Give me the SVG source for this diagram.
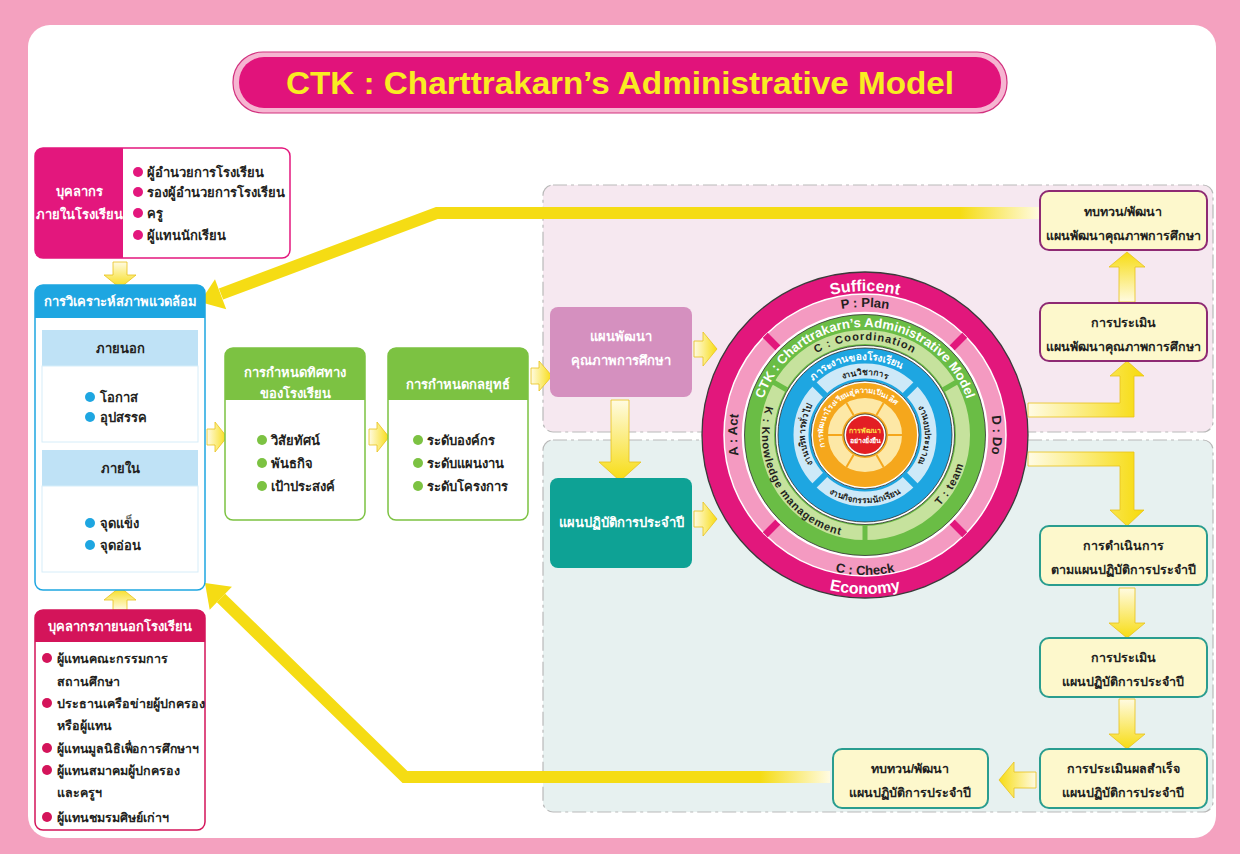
<svg xmlns="http://www.w3.org/2000/svg" width="1240" height="854" viewBox="0 0 1240 854">
<style>
text{font-family:'Liberation Sans',sans-serif;}
.t{font-size:13px;font-weight:bold;fill:#231f20;}
.s{font-size:12.5px;}
.tw{font-size:13px;font-weight:bold;fill:#ffffff;}
.tc{text-anchor:middle;}
.rb{fill:#fdf8cc;stroke-width:2;}
.rp{stroke:#8e2a73;}
.rt{stroke:#2a9d8f;}
.ar{stroke:#e9c21a;stroke-width:0.8;}
.zone{stroke:#b9b9b9;stroke-width:1.2;stroke-dasharray:14 4 3 4;}
.ring{fill:none;}
</style>
<defs>
<linearGradient id="gR" x1="0" y1="0" x2="1" y2="0"><stop offset="0" stop-color="#fffbe2"/><stop offset="1" stop-color="#f7dc12"/></linearGradient>
<linearGradient id="gL" x1="1" y1="0" x2="0" y2="0"><stop offset="0" stop-color="#fffbe2"/><stop offset="1" stop-color="#f7dc12"/></linearGradient>
<linearGradient id="gD" x1="0" y1="0" x2="0" y2="1"><stop offset="0" stop-color="#fffbe2"/><stop offset="1" stop-color="#f7dc12"/></linearGradient>
<linearGradient id="gU" x1="0" y1="1" x2="0" y2="0"><stop offset="0" stop-color="#fffbe2"/><stop offset="1" stop-color="#f7dc12"/></linearGradient>
<linearGradient id="gTop" gradientUnits="userSpaceOnUse" x1="1040" y1="0" x2="960" y2="0"><stop offset="0" stop-color="#fffbe2"/><stop offset="1" stop-color="#f5dc14"/></linearGradient>
<linearGradient id="gBot" gradientUnits="userSpaceOnUse" x1="830" y1="0" x2="760" y2="0"><stop offset="0" stop-color="#fffbe2"/><stop offset="1" stop-color="#f5dc14"/></linearGradient>
<linearGradient id="gUp" gradientUnits="userSpaceOnUse" x1="1030" y1="0" x2="1140" y2="0"><stop offset="0" stop-color="#fffbe2"/><stop offset="1" stop-color="#f7dc12"/></linearGradient>
<path id="pSuf" d="M721,435 A144,144 0 0 1 1009,435"/>
<path id="pEco" d="M706,435 A159,159 0 0 0 1024,435"/>
<path id="pPlan" d="M737,435 A128,128 0 0 1 993,435"/>
<path id="pCheck" d="M725,435 A140,140 0 0 0 1005,435"/>
<path id="pAct" d="M774.5,525.5 A128,128 0 0 1 774.5,344.5"/>
<path id="pDo" d="M955.5,344.5 A128,128 0 0 1 955.5,525.5"/>
<path id="pCTK" d="M763.5,471.9 A108,108 0 1 1 966.5,471.9"/>
<path id="pCoord" d="M770,435 A95,95 0 0 1 960,435"/>
<path id="pK" d="M775.8,383.5 A103,103 0 0 0 865,538"/>
<path id="pT" d="M916.5,524.2 A103,103 0 0 0 968,435"/>
<path id="pWork" d="M790,435 A75,75 0 0 1 940,435"/>
<path id="pAca" d="M805,435 A60,60 0 0 1 925,435"/>
<path id="pGen" d="M822.6,477.4 A60,60 0 0 1 822.6,392.6"/>
<path id="pBud" d="M907.4,392.6 A60,60 0 0 1 907.4,477.4"/>
<path id="pStu" d="M797,435 A68,68 0 0 0 933,435"/>
<path id="pExc" d="M832.8,462 A42,42 0 1 1 904.5,420.6"/>
</defs>

<rect x="0" y="0" width="1240" height="854" fill="#f4a1bf"/>
<rect x="28" y="25" width="1188" height="813" rx="22" fill="#ffffff"/>

<g id="zones">
<rect class="zone" x="543" y="185" width="670" height="247" rx="10" fill="#f6e8f0"/>
<rect class="zone" x="543" y="440" width="670" height="372" rx="10" fill="#e7f1f0"/>
</g>

<g id="title">
<rect x="233" y="52" width="774" height="61" rx="30" fill="#f6b5d1" stroke="#d2327f" stroke-width="1.2"/>
<rect x="239" y="57" width="762" height="51" rx="25" fill="#e1137b"/>
<text x="620" y="94" text-anchor="middle" font-size="32" font-weight="bold" fill="#f9ec22" textLength="668" lengthAdjust="spacingAndGlyphs">CTK : Charttrakarn’s Administrative Model</text>
</g>

<g id="connectors">
<path d="M1040,213 H437 L221,294" fill="none" stroke="url(#gTop)" stroke-width="12"/>
<polygon points="200,302 215,279.3 226.2,309.3" fill="#f5dc14"/>
<path d="M830,777 H405 L221,598" fill="none" stroke="url(#gBot)" stroke-width="12"/>
<polygon points="205,583 231.9,586.8 209.7,609.8" fill="#f5dc14"/>
<polygon class="ar" fill="url(#gD)" points="113,262 127,262 127,275 136,275 120,288 104,275 113,275"/>
<polygon class="ar" fill="url(#gU)" points="113,610 127,610 127,600 136,600 120,587 104,600 113,600"/>
<polygon class="ar" fill="url(#gR)" points="207,429 215,429 215,422 227,437 215,452 215,445 207,445"/>
<polygon class="ar" fill="url(#gR)" points="369,429 377,429 377,422 389,437 377,452 377,445 369,445"/>
<polygon class="ar" fill="url(#gR)" points="531,368 539,368 539,361 552,376 539,391 539,384 531,384"/>
<polygon class="ar" fill="url(#gD)" points="611,400 629,400 629,462 641,462 620,481 599,462 611,462"/>
<polygon class="ar" fill="url(#gR)" points="694,341 703,341 703,332 717,349 703,366 703,357 694,357"/>
<polygon class="ar" fill="url(#gR)" points="694,511 703,511 703,502 717,519 703,536 703,527 694,527"/>
<polygon class="ar" fill="url(#gU)" points="1119,302 1135,302 1135,267 1145,267 1127,252 1109,267 1119,267"/>
<polygon class="ar" fill="url(#gD)" points="1119,588 1135,588 1135,623 1145,623 1127,638 1109,623 1119,623"/>
<polygon class="ar" fill="url(#gD)" points="1119,699 1135,699 1135,734 1145,734 1127,749 1109,734 1119,734"/>
<polygon class="ar" fill="url(#gL)" points="1036,772 1014,772 1014,762 999,780 1014,798 1014,788 1036,788"/>
<polygon class="ar" fill="url(#gUp)" points="1028,403 1120,403 1120,376 1110,376 1127,361 1144,376 1134,376 1134,417 1028,417"/>
<polygon class="ar" fill="url(#gUp)" points="1028,452 1134,452 1134,510 1144,510 1127,526 1110,510 1120,510 1120,466 1028,466"/>
</g>

<g id="internal-staff">
<rect x="35" y="148" width="255" height="110" rx="8" fill="#ffffff" stroke="#e3177d" stroke-width="1.5"/>
<path d="M43,148 H123 V258 H43 A8,8 0 0 1 35,250 V156 A8,8 0 0 1 43,148 Z" fill="#e3177d"/>
<text class="tw tc" x="79" y="196">บุคลากร</text>
<text class="tw tc" x="79" y="219">ภายในโรงเรียน</text>
<g fill="#e3177d"><circle cx="138" cy="172" r="5"/><circle cx="138" cy="192" r="5"/><circle cx="138" cy="213" r="5"/><circle cx="138" cy="235" r="5"/></g>
<text class="t" x="147" y="177">ผู้อำนวยการโรงเรียน</text>
<text class="t" x="147" y="197">รองผู้อำนวยการโรงเรียน</text>
<text class="t" x="147" y="218">ครู</text>
<text class="t" x="147" y="240">ผู้แทนนักเรียน</text>
</g>

<g id="env-analysis">
<rect x="35" y="285" width="170" height="305" rx="8" fill="#ffffff" stroke="#1ea6e1" stroke-width="1.5"/>
<path d="M43,285 H197 A8,8 0 0 1 205,293 V318 H35 V293 A8,8 0 0 1 43,285 Z" fill="#1ea6e1"/>
<text class="tw tc" x="120" y="306">การวิเคราะห์สภาพแวดล้อม</text>
<rect x="42" y="330" width="156" height="36" fill="#bfe2f6"/>
<rect x="42" y="366" width="156" height="76" fill="#ffffff" stroke="#d6edf9"/>
<text class="t tc" x="120" y="353">ภายนอก</text>
<circle cx="90" cy="397" r="5" fill="#1ea6e1"/><text class="t" x="100" y="402">โอกาส</text>
<circle cx="90" cy="417" r="5" fill="#1ea6e1"/><text class="t" x="100" y="422">อุปสรรค</text>
<rect x="42" y="450" width="156" height="36" fill="#bfe2f6"/>
<rect x="42" y="486" width="156" height="86" fill="#ffffff" stroke="#d6edf9"/>
<text class="t tc" x="120" y="473">ภายใน</text>
<circle cx="90" cy="523" r="5" fill="#1ea6e1"/><text class="t" x="100" y="528">จุดแข็ง</text>
<circle cx="90" cy="545" r="5" fill="#1ea6e1"/><text class="t" x="100" y="550">จุดอ่อน</text>
</g>

<g id="external-staff">
<rect x="35" y="610" width="170" height="220" rx="8" fill="#ffffff" stroke="#d4145a" stroke-width="1.5"/>
<path d="M43,610 H197 A8,8 0 0 1 205,618 V642 H35 V618 A8,8 0 0 1 43,610 Z" fill="#d4145a"/>
<text class="tw tc" x="120" y="631">บุคลากรภายนอกโรงเรียน</text>
<g fill="#d4145a"><circle cx="47" cy="658" r="5"/><circle cx="47" cy="703" r="5"/><circle cx="47" cy="748" r="5"/><circle cx="47" cy="770" r="5"/><circle cx="47" cy="817" r="5"/></g>
<text class="t s" x="57" y="663">ผู้แทนคณะกรรมการ</text>
<text class="t s" x="57" y="686">สถานศึกษา</text>
<text class="t s" x="57" y="708">ประธานเครือข่ายผู้ปกครอง</text>
<text class="t s" x="57" y="730">หรือผู้แทน</text>
<text class="t s" x="57" y="753" textLength="142" lengthAdjust="spacingAndGlyphs">ผู้แทนมูลนิธิเพื่อการศึกษาฯ</text>
<text class="t s" x="57" y="775">ผู้แทนสมาคมผู้ปกครอง</text>
<text class="t s" x="57" y="797">และครูฯ</text>
<text class="t s" x="57" y="822">ผู้แทนชมรมศิษย์เก่าฯ</text>
</g>

<g id="direction">
<rect x="225" y="348" width="140" height="172" rx="8" fill="#ffffff" stroke="#7cc242" stroke-width="1.5"/>
<path d="M233,348 H357 A8,8 0 0 1 365,356 V400 H225 V356 A8,8 0 0 1 233,348 Z" fill="#7cc242"/>
<text class="tw tc" x="295" y="377">การกำหนดทิศทาง</text>
<text class="tw tc" x="295" y="398">ของโรงเรียน</text>
<g fill="#7cc242"><circle cx="262" cy="440" r="5"/><circle cx="262" cy="463" r="5"/><circle cx="262" cy="486" r="5"/></g>
<text class="t" x="271" y="445">วิสัยทัศน์</text>
<text class="t" x="271" y="468">พันธกิจ</text>
<text class="t" x="271" y="491">เป้าประสงค์</text>
</g>

<g id="strategy">
<rect x="388" y="348" width="140" height="172" rx="8" fill="#ffffff" stroke="#7cc242" stroke-width="1.5"/>
<path d="M396,348 H520 A8,8 0 0 1 528,356 V400 H388 V356 A8,8 0 0 1 396,348 Z" fill="#7cc242"/>
<text class="tw tc" x="458" y="389">การกำหนดกลยุทธ์</text>
<g fill="#7cc242"><circle cx="418" cy="440" r="5"/><circle cx="418" cy="463" r="5"/><circle cx="418" cy="486" r="5"/></g>
<text class="t" x="427" y="445">ระดับองค์กร</text>
<text class="t" x="427" y="468">ระดับแผนงาน</text>
<text class="t" x="427" y="491">ระดับโครงการ</text>
</g>

<g id="dev-plan">
<rect x="550" y="307" width="142" height="90" rx="8" fill="#d590bf"/>
<text class="tw tc" x="621" y="341">แผนพัฒนา</text>
<text class="tw tc" x="621" y="365">คุณภาพการศึกษา</text>
</g>
<g id="action-plan">
<rect x="550" y="478" width="142" height="90" rx="8" fill="#0ea295"/>
<text class="tw tc" x="621" y="527">แผนปฏิบัติการประจำปี</text>
</g>

<g id="model-circle">
<circle cx="865" cy="435" r="152" class="ring" stroke="#e2177c" stroke-width="22"/>
<circle cx="865" cy="435" r="163" fill="none" stroke="#3a3a3a" stroke-width="1.3"/>
<circle cx="865" cy="435" r="131.5" class="ring" stroke="#f49ac1" stroke-width="19"/>
<circle cx="865" cy="435" r="141" fill="none" stroke="#ffffff" stroke-width="1.5"/>
<g stroke="#e2177c" stroke-width="7">
<line x1="951.3" y1="348.7" x2="964.7" y2="335.3"/><line x1="778.7" y1="348.7" x2="765.3" y2="335.3"/>
<line x1="778.7" y1="521.3" x2="765.3" y2="534.7"/><line x1="951.3" y1="521.3" x2="964.7" y2="534.7"/>
</g>
<circle cx="865" cy="435" r="122" fill="none" stroke="#ffffff" stroke-width="2.5"/>
<circle cx="865" cy="435" r="120.5" fill="#6abd45" stroke="#2f2f2f" stroke-width="0.8"/>
<circle cx="865" cy="435" r="98" class="ring" stroke="#c6e29d" stroke-width="14"/>
<g stroke="#6abd45" stroke-width="5">
<line x1="787.1" y1="390" x2="773.2" y2="382"/><line x1="942.9" y1="390" x2="956.8" y2="382"/><line x1="865" y1="525" x2="865" y2="541"/>
</g>
<circle cx="865" cy="435" r="89.5" fill="#ffffff" stroke="#2f2f2f" stroke-width="0.8"/>
<circle cx="865" cy="435" r="87" fill="#1ea6e1" stroke="#2f2f2f" stroke-width="0.8"/>
<circle cx="865" cy="435" r="64" class="ring" stroke="#cde9f8" stroke-width="15"/>
<g stroke="#1ea6e1" stroke-width="6">
<line x1="904.6" y1="395.4" x2="915.9" y2="384.1"/><line x1="825.4" y1="395.4" x2="814.1" y2="384.1"/>
<line x1="825.4" y1="474.6" x2="814.1" y2="485.9"/><line x1="904.6" y1="474.6" x2="915.9" y2="485.9"/>
</g>
<circle cx="865" cy="435" r="54" fill="#ffffff" stroke="#2f2f2f" stroke-width="0.8"/>
<circle cx="865" cy="435" r="52" fill="#f5a71c"/>
<circle cx="865" cy="435" r="30" class="ring" stroke="#fde8a6" stroke-width="14"/>
<g stroke="#f5a71c" stroke-width="2">
<line x1="888" y1="435" x2="902" y2="435"/><line x1="842" y1="435" x2="828" y2="435"/>
<line x1="876.5" y1="415.1" x2="883.5" y2="403"/><line x1="853.5" y1="415.1" x2="846.5" y2="403"/>
<line x1="876.5" y1="454.9" x2="883.5" y2="467"/><line x1="853.5" y1="454.9" x2="846.5" y2="467"/>
</g>
<circle cx="865" cy="435" r="21" fill="#ffffff" stroke="#2f2f2f" stroke-width="0.8"/>
<circle cx="865" cy="435" r="19" fill="#e31e24"/>
<text x="865" y="433" text-anchor="middle" font-size="7" font-weight="bold" fill="#ffe14a">การพัฒนา</text>
<text x="865" y="443" text-anchor="middle" font-size="7" font-weight="bold" fill="#ffffff">อย่างยั่งยืน</text>
<g font-weight="bold">
<text font-size="16" fill="#ffffff"><textPath href="#pSuf" startOffset="50%" text-anchor="middle">Sufficent</textPath></text>
<text font-size="16" fill="#ffffff"><textPath href="#pEco" startOffset="50%" text-anchor="middle">Economy</textPath></text>
<text font-size="13" fill="#231f20"><textPath href="#pPlan" startOffset="50%" text-anchor="middle">P : Plan</textPath></text>
<text font-size="13" fill="#231f20"><textPath href="#pCheck" startOffset="50%" text-anchor="middle">C : Check</textPath></text>
<text font-size="13" fill="#231f20"><textPath href="#pAct" startOffset="50%" text-anchor="middle">A : Act</textPath></text>
<text font-size="13" fill="#231f20"><textPath href="#pDo" startOffset="50%" text-anchor="middle">D : Do</textPath></text>
<text font-size="13" fill="#ffffff"><textPath href="#pCTK" startOffset="50%" text-anchor="middle" textLength="266" lengthAdjust="spacingAndGlyphs">CTK : Charttrakarn’s Administrative Model</textPath></text>
<text font-size="11" fill="#231f20" letter-spacing="1"><textPath href="#pCoord" startOffset="50%" text-anchor="middle">C : Coordination</textPath></text>
<text font-size="11" fill="#231f20" letter-spacing="0.8"><textPath href="#pK" startOffset="50%" text-anchor="middle">K : Knowledge management</textPath></text>
<text font-size="11" fill="#231f20" letter-spacing="0.8"><textPath href="#pT" startOffset="50%" text-anchor="middle">T : team</textPath></text>
<text font-size="10" fill="#ffffff"><textPath href="#pWork" startOffset="46%" text-anchor="middle">ภาระงานของโรงเรียน</textPath></text>
<text font-size="8.5" fill="#231f20"><textPath href="#pAca" startOffset="50%" text-anchor="middle">งานวิชาการ</textPath></text>
<text font-size="8.5" fill="#231f20"><textPath href="#pGen" startOffset="50%" text-anchor="middle">งานบริหารทั่วไป</textPath></text>
<text font-size="8.5" fill="#231f20"><textPath href="#pBud" startOffset="50%" text-anchor="middle">งานงบประมาณ</textPath></text>
<text font-size="8.5" fill="#231f20"><textPath href="#pStu" startOffset="50%" text-anchor="middle">งานกิจกรรมนักเรียน</textPath></text>
<text font-size="7.5" fill="#ffffff"><textPath href="#pExc" startOffset="50%" text-anchor="middle">การพัฒนาโรงเรียนสู่ความเป็นเลิศ</textPath></text>
</g>
</g>

<g id="review-dev-plan">
<rect class="rb rp" x="1040" y="191" width="167" height="59" rx="9"/>
<text class="t s tc" x="1123" y="216">ทบทวน/พัฒนา</text>
<text class="t s tc" x="1123" y="240">แผนพัฒนาคุณภาพการศึกษา</text>
</g>
<g id="eval-dev-plan">
<rect class="rb rp" x="1040" y="303" width="167" height="58" rx="9"/>
<text class="t s tc" x="1123" y="327">การประเมิน</text>
<text class="t s tc" x="1123" y="351">แผนพัฒนาคุณภาพการศึกษา</text>
</g>
<g id="implement">
<rect class="rb rt" x="1040" y="526" width="167" height="59" rx="9"/>
<text class="t s tc" x="1123" y="550">การดำเนินการ</text>
<text class="t s tc" x="1123" y="574">ตามแผนปฏิบัติการประจำปี</text>
</g>
<g id="eval-action-plan">
<rect class="rb rt" x="1040" y="638" width="167" height="59" rx="9"/>
<text class="t s tc" x="1123" y="662">การประเมิน</text>
<text class="t s tc" x="1123" y="686">แผนปฏิบัติการประจำปี</text>
</g>
<g id="eval-success">
<rect class="rb rt" x="1040" y="749" width="167" height="59" rx="9"/>
<text class="t s tc" x="1123" y="773">การประเมินผลสำเร็จ</text>
<text class="t s tc" x="1123" y="797">แผนปฏิบัติการประจำปี</text>
</g>
<g id="review-action-plan">
<rect class="rb rt" x="833" y="749" width="155" height="59" rx="9"/>
<text class="t s tc" x="910" y="773">ทบทวน/พัฒนา</text>
<text class="t s tc" x="910" y="797">แผนปฏิบัติการประจำปี</text>
</g>
</svg>
